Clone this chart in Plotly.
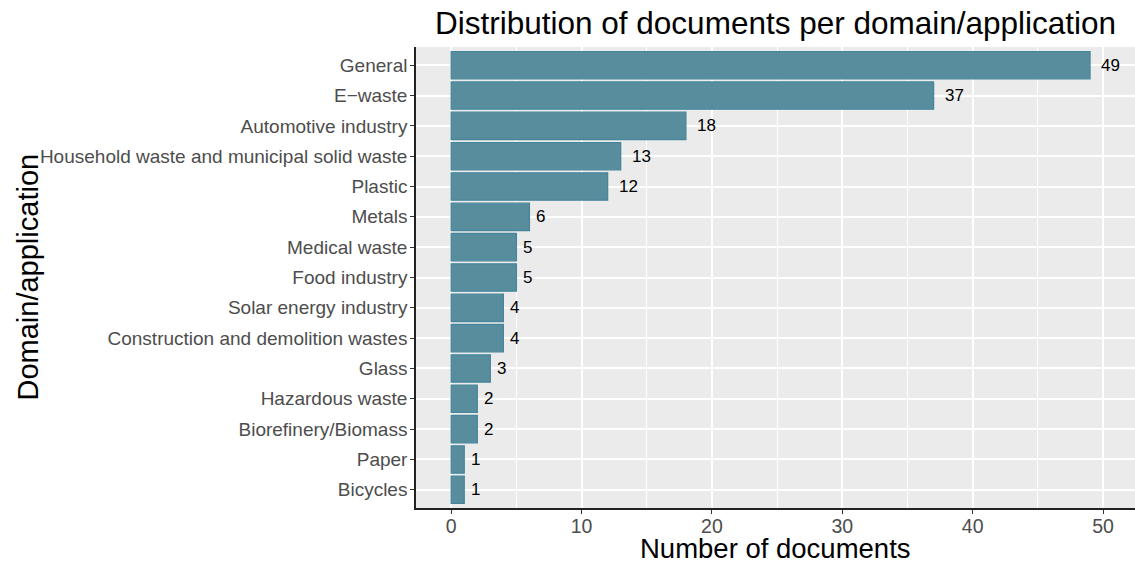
import plotly.graph_objects as go

categories = ["General", "E\u2212waste", "Automotive industry",
              "Household waste and municipal solid waste", "Plastic", "Metals",
              "Medical waste", "Food industry", "Solar energy industry",
              "Construction and demolition wastes", "Glass", "Hazardous waste",
              "Biorefinery/Biomass", "Paper", "Bicycles"]
counts = [49, 37, 18, 13, 12, 6, 5, 5, 4, 4, 3, 2, 2, 1, 1]
x_ticks = [0, 10, 20, 30, 40, 50]

FONT = "Liberation Sans, Arial, Helvetica, sans-serif"
LABEL_SIZE = 17

fig = go.Figure()
fig.add_trace(go.Bar(
    x=counts, y=categories, orientation="h", width=0.9,
    marker=dict(color="#588d9e", line=dict(color="#47869a", width=1.3)),
    hoverinfo="skip",
))

annotations = []
for c, v in zip(categories, counts):
    w = len(str(v)) * 0.556 * LABEL_SIZE
    annotations.append(dict(x=v, y=c, xref="x", yref="y", text=str(v),
                            xanchor="left", yanchor="middle", xshift=0.5 * w,
                            showarrow=False,
                            font=dict(size=LABEL_SIZE, color="black", family=FONT)))
annotations += [
    dict(text="Distribution of documents per domain/application", xref="paper", yref="paper",
         x=0.5, y=1.0, yshift=24, xanchor="center", yanchor="middle", showarrow=False,
         font=dict(size=31.5, color="black", family=FONT)),
    dict(text="Number of documents", xref="paper", yref="paper",
         x=0.5, y=0, yshift=-40, xanchor="center", yanchor="middle", showarrow=False,
         font=dict(size=27.5, color="black", family=FONT)),
    dict(text="Domain/application", xref="paper", yref="paper", textangle=-90,
         x=0, y=0.5, xshift=-389, xanchor="center", yanchor="middle", showarrow=False,
         font=dict(size=29, color="black", family=FONT)),
]

fig.update_layout(
    width=1135, height=563,
    margin=dict(l=416, r=0, t=47, b=55, autoexpand=False),
    paper_bgcolor="white", plot_bgcolor="#ebebeb",
    font=dict(family=FONT),
    showlegend=False,
    annotations=annotations,
    xaxis=dict(range=[-2.7, 52.45], tickvals=x_ticks, ticktext=[str(v) for v in x_ticks],
               automargin=False,
               showgrid=True, gridcolor="white", gridwidth=1.6, zeroline=False,
               minor=dict(tickvals=[5, 15, 25, 35, 45], showgrid=True,
                          gridcolor="white", gridwidth=0.8, ticks=""),
               showline=True, linecolor="#222222", linewidth=1.5,
               ticks="outside", ticklen=4, tickcolor="#333333", tickwidth=1.2,
               ticklabelstandoff=-4,
               tickfont=dict(size=19.5, color="#4d4d4d", family=FONT)),
    yaxis=dict(categoryorder="array", categoryarray=categories[::-1],
               range=[-0.6, 14.6], automargin=False,
               showgrid=True, gridcolor="white", gridwidth=1.6, zeroline=False,
               showline=True, linecolor="#222222", linewidth=1.5,
               ticks="outside", ticklen=4, tickcolor="#333333", tickwidth=1.2,
               ticklabelstandoff=-1,
               tickfont=dict(size=19, color="#4d4d4d", family=FONT)),
    bargap=0.1,
)

fig.write_html("out.html", config={"displayModeBar": False},
               post_script="document.body.style.margin='0';document.body.style.overflow='hidden';")
